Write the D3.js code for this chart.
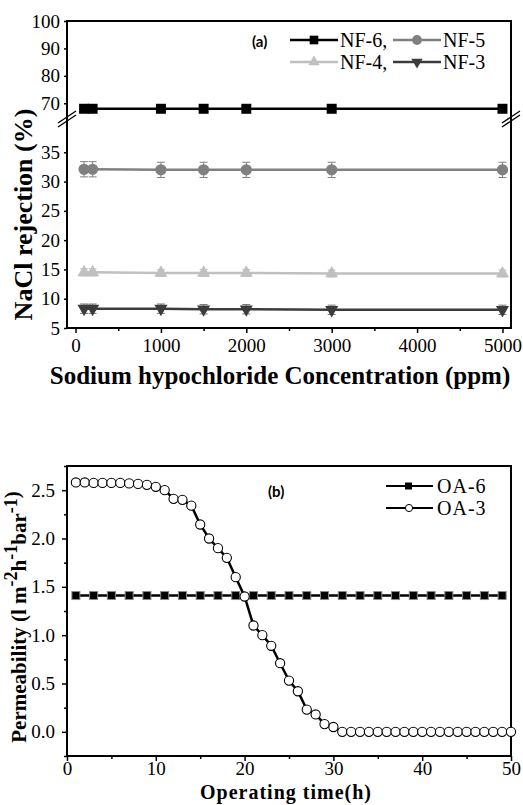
<!DOCTYPE html>
<html>
<head>
<meta charset="utf-8">
<script src="https://cdn.jsdelivr.net/npm/d3@7"></script>
<style>
  body { margin: 0; background: #fff; }
</style>
</head>
<body>
<div id="chart"></div>
<script>
/* (a) NaCl rejection vs hypochlorite, (b) permeability vs operating time */

// ---- panel (a) data
const concentration = [100, 200, 1000, 1500, 2000, 3000, 5000];
const nf6 = [68, 68, 68, 68, 68, 68, 68];
const nf5 = [32.1, 32.1, 32, 32, 32, 32, 32];
const nf4 = [14.5, 14.5, 14.4, 14.4, 14.4, 14.3, 14.3];
const nf3 = [8.3, 8.3, 8.3, 8.2, 8.2, 8.1, 8.1];
const nf6Err = [0.6, 0.6, 0.6, 0.6, 0.6, 0.6, 0.6];
const nf5Err = [1.3, 1.3, 1.3, 1.3, 1.3, 1.3, 1.3];
const nf4Err = [0.6, 0.6, 0.6, 0.6, 0.6, 0.6, 0.6];
const nf3Err = [0.8, 0.8, 0.8, 0.8, 0.8, 0.8, 0.8];
const xTicksA = [0, 1000, 2000, 3000, 4000, 5000];
const xMinorA = [500, 1500, 2500, 3500, 4500];
const yTicksUp = [70, 80, 90, 100];
const yTicksLow = [5, 10, 15, 20, 25, 30, 35];

// ---- panel (b) data
const hoursOA6 = [1, 3, 5, 7, 9, 11, 13, 15, 17, 19, 21, 23, 25, 27, 29, 31, 33, 35, 37, 39, 41, 43, 45, 47, 49];
const oa6 = [1.41, 1.41, 1.41, 1.41, 1.41, 1.41, 1.41, 1.41, 1.41, 1.41, 1.41, 1.41, 1.41,
             1.41, 1.41, 1.41, 1.41, 1.41, 1.41, 1.41, 1.41, 1.41, 1.41, 1.41, 1.41];
const hoursOA3 = [1, 2, 3, 4, 5, 6, 7, 8, 9, 10, 11, 12, 13, 14, 15, 16, 17, 18, 19, 20, 21, 22, 23, 24, 25,
                  26, 27, 28, 29, 30, 31, 32, 33, 34, 35, 36, 37, 38, 39, 40, 41, 42, 43, 44, 45, 46, 47, 48, 49, 50];
const oa3 = [2.58, 2.58, 2.575, 2.575, 2.575, 2.575, 2.57, 2.565, 2.555, 2.535,
             2.50, 2.41, 2.40, 2.34, 2.145, 2.0, 1.90, 1.80, 1.60, 1.40,
             1.10, 1.00, 0.89, 0.71, 0.53, 0.42, 0.23, 0.18, 0.08, 0.05,
             0, 0, 0, 0, 0, 0, 0, 0, 0, 0, 0, 0, 0, 0, 0, 0, 0, 0, 0, 0];
const xTicksB = [0, 10, 20, 30, 40, 50];
const xMinorB = [5, 15, 25, 35, 45];
const yTicksB = [0, 0.5, 1.0, 1.5, 2.0, 2.5];
const yMinorB = [-0.25, 0.25, 0.75, 1.25, 1.75, 2.25, 2.75];

const SERIF = "'Liberation Serif', 'DejaVu Serif', serif";
const SANS = "Lato, 'Open Sans', sans-serif";

const width = 523, height = 805;
const svg = d3.select("#chart").append("svg")
    .attr("width", width)
    .attr("height", height)
    .style("font-family", SERIF);

function styleAxis(g, size) {
    g.attr("font-family", null).attr("font-size", null);
    g.select(".domain").remove();
    g.selectAll(".tick line").attr("stroke", "#000").attr("stroke-width", 1.5);
    g.selectAll(".tick text")
        .style("font-family", SERIF)
        .style("font-size", size + "px")
        .attr("fill", "#000");
}

// ================= panel (a)
const pa = { left: 67, right: 511, top: 21, bottom: 328 };
const xA = d3.scaleLinear().domain([-100, 5100]).range([pa.left, pa.right]);
const yUp = d3.scaleLinear().domain([65, 100]).range([117, pa.top]);
const yLow = d3.scaleLinear().domain([5, 40]).range([pa.bottom, 123]);
const yA = v => v > 50 ? yUp(v) : yLow(v);

svg.append("g")
    .attr("transform", `translate(0,${pa.bottom})`)
    .call(d3.axisBottom(xA).tickValues(xTicksA).tickSize(5).tickPadding(6).tickFormat(d3.format("d")))
    .call(g => styleAxis(g, 19));
svg.append("g")
    .attr("transform", `translate(0,${pa.bottom})`)
    .call(d3.axisBottom(xA).tickValues(xMinorA).tickSize(3).tickFormat(""))
    .call(g => styleAxis(g, 19));
svg.append("g")
    .attr("transform", `translate(${pa.left},0)`)
    .call(d3.axisLeft(yUp).tickValues(yTicksUp).tickSize(3).tickPadding(4))
    .call(g => styleAxis(g, 19));
svg.append("g")
    .attr("transform", `translate(${pa.left},0)`)
    .call(d3.axisLeft(yLow).tickValues(yTicksLow).tickSize(3).tickPadding(4))
    .call(g => styleAxis(g, 19));

svg.append("rect")
    .attr("x", pa.left).attr("y", pa.top)
    .attr("width", pa.right - pa.left).attr("height", pa.bottom - pa.top)
    .attr("fill", "none").attr("stroke", "#000").attr("stroke-width", 2);

// axis break marks
[pa.left, pa.right].forEach(x => {
    [-2, 2].forEach(off => {
        svg.append("line")
            .attr("x1", x - 9).attr("y1", 125 + off)
            .attr("x2", x + 9).attr("y2", 113 + off)
            .attr("stroke", "#000").attr("stroke-width", 1.4);
    });
});

const seriesA = [
    { name: "NF-6,", values: nf6, err: nf6Err, color: "#000000", errColor: "#777", symbol: d3.symbolSquare, size: 100, rot: 0 },
    { name: "NF-5", values: nf5, err: nf5Err, color: "#808080", errColor: "#808080", symbol: d3.symbolCircle, size: 100, rot: 0 },
    { name: "NF-4,", values: nf4, err: nf4Err, color: "#c0c0c0", errColor: "#c0c0c0", symbol: d3.symbolTriangle, size: 75, rot: 0 },
    { name: "NF-3", values: nf3, err: nf3Err, color: "#3c3c3c", errColor: "#777", symbol: d3.symbolTriangle, size: 75, rot: 180 }
];

const lineA = d3.line().x(d => xA(d[0])).y(d => yA(d[1]));

seriesA.forEach(s => {
    const pts = concentration.map((c, i) => [c, s.values[i], s.err[i]]);
    const g = svg.append("g");
    g.selectAll(".err").data(pts).join("g").each(function (d) {
        const e = d3.select(this);
        const x = xA(d[0]);
        e.append("line").attr("x1", x).attr("x2", x)
            .attr("y1", yA(d[1] - d[2])).attr("y2", yA(d[1] + d[2]))
            .attr("stroke", s.errColor).attr("stroke-width", 1);
        [d[1] - d[2], d[1] + d[2]].forEach(v => {
            e.append("line").attr("x1", x - 4).attr("x2", x + 4)
                .attr("y1", yA(v)).attr("y2", yA(v))
                .attr("stroke", s.errColor).attr("stroke-width", 1);
        });
    });
    g.append("path").datum(pts)
        .attr("d", lineA)
        .attr("fill", "none").attr("stroke", s.color).attr("stroke-width", 2.5);
    g.selectAll(".mk").data(pts).join("path")
        .attr("transform", d => `translate(${xA(d[0])},${yA(d[1])}) rotate(${s.rot})`)
        .attr("d", d3.symbol(s.symbol, s.size))
        .attr("fill", s.color);
});

// legend (a)
svg.append("text")
    .attr("x", 252).attr("y", 47)
    .style("font-family", SANS)
    .style("font-weight", "bold").style("font-size", "15px")
    .text("(a)");

const legA = [
    { s: seriesA[0], x: 290, y: 40 },
    { s: seriesA[1], x: 393, y: 40 },
    { s: seriesA[2], x: 290, y: 62 },
    { s: seriesA[3], x: 393, y: 62 }
];
legA.forEach(l => {
    svg.append("line")
        .attr("x1", l.x).attr("x2", l.x + 48)
        .attr("y1", l.y).attr("y2", l.y)
        .attr("stroke", l.s.color).attr("stroke-width", 2.5);
    svg.append("path")
        .attr("transform", `translate(${l.x + 24},${l.y}) rotate(${l.s.rot})`)
        .attr("d", d3.symbol(l.s.symbol, l.s.size * 0.75))
        .attr("fill", l.s.color);
    svg.append("text")
        .attr("x", l.x + 50).attr("y", l.y + 7)
        .style("font-family", SERIF)
        .style("font-size", "20px")
        .text(l.s.name);
});

// titles (a)
svg.append("text")
    .attr("transform", `translate(32,${(pa.top + pa.bottom) / 2 + 40}) rotate(-90)`)
    .attr("text-anchor", "middle")
    .style("font-family", SERIF)
    .style("font-size", "26px").style("font-weight", "bold")
    .text("NaCl rejection (%)");
svg.append("text")
    .attr("x", 280).attr("y", 384)
    .attr("text-anchor", "middle")
    .style("font-family", SERIF)
    .style("font-size", "25px").style("font-weight", "bold")
    .text("Sodium hypochloride Concentration (ppm)");

// ================= panel (b)
const pb = { left: 67, right: 511, top: 466, bottom: 756 };
const xB = d3.scaleLinear().domain([0, 50]).range([pb.left, pb.right]);
const yB = d3.scaleLinear().domain([-0.25, 2.75]).range([pb.bottom, pb.top]);

svg.append("g")
    .attr("transform", `translate(0,${pb.bottom})`)
    .call(d3.axisBottom(xB).tickValues(xTicksB).tickSize(5).tickPadding(1))
    .call(g => styleAxis(g, 19));
svg.append("g")
    .attr("transform", `translate(0,${pb.bottom})`)
    .call(d3.axisBottom(xB).tickValues(xMinorB).tickSize(3).tickFormat(""))
    .call(g => styleAxis(g, 19));
svg.append("g")
    .attr("transform", `translate(${pb.left},0)`)
    .call(d3.axisLeft(yB).tickValues(yTicksB).tickSize(5).tickPadding(7).tickFormat(d3.format(".1f")))
    .call(g => styleAxis(g, 19));
svg.append("g")
    .attr("transform", `translate(${pb.left},0)`)
    .call(d3.axisLeft(yB).tickValues(yMinorB).tickSize(3).tickFormat(""))
    .call(g => styleAxis(g, 19));

svg.append("rect")
    .attr("x", pb.left).attr("y", pb.top)
    .attr("width", pb.right - pb.left).attr("height", pb.bottom - pb.top)
    .attr("fill", "none").attr("stroke", "#000").attr("stroke-width", 2);

const lineB = d3.line().x(d => xB(d[0])).y(d => yB(d[1]));

// OA-6
const ptsOA6 = hoursOA6.map((h, i) => [h, oa6[i]]);
svg.append("path").datum(ptsOA6)
    .attr("d", lineB)
    .attr("fill", "none").attr("stroke", "#000").attr("stroke-width", 2.5);
svg.selectAll(".oa6").data(ptsOA6).join("rect")
    .attr("x", d => xB(d[0]) - 4).attr("y", d => yB(d[1]) - 4)
    .attr("width", 8).attr("height", 8)
    .attr("fill", "#000").attr("stroke", "#888").attr("stroke-width", 1);

// OA-3
const ptsOA3 = hoursOA3.map((h, i) => [h, oa3[i]]);
svg.append("path").datum(ptsOA3)
    .attr("d", lineB)
    .attr("fill", "none").attr("stroke", "#000").attr("stroke-width", 2.5);
svg.selectAll(".oa3").data(ptsOA3).join("circle")
    .attr("cx", d => xB(d[0])).attr("cy", d => yB(d[1]))
    .attr("r", 4.6)
    .attr("fill", "#fff").attr("stroke", "#000").attr("stroke-width", 1.1);

// legend (b)
svg.append("text")
    .attr("x", 268).attr("y", 497)
    .style("font-family", SANS)
    .style("font-weight", "bold").style("font-size", "15px")
    .text("(b)");

[{ name: "OA-6", y: 486, sq: true }, { name: "OA-3", y: 508, sq: false }].forEach(l => {
    svg.append("line")
        .attr("x1", 386).attr("x2", 433)
        .attr("y1", l.y).attr("y2", l.y)
        .attr("stroke", "#000").attr("stroke-width", 2);
    if (l.sq) {
        svg.append("rect").attr("x", 405).attr("y", l.y - 3.5)
            .attr("width", 7).attr("height", 7).attr("fill", "#000");
    } else {
        svg.append("circle").attr("cx", 409).attr("cy", l.y).attr("r", 3.6)
            .attr("fill", "#fff").attr("stroke", "#000").attr("stroke-width", 1);
    }
    svg.append("text")
        .attr("x", 437).attr("y", l.y + 7)
        .style("font-family", SERIF)
        .style("font-size", "20px").style("letter-spacing", "1px")
        .text(l.name);
});

// titles (b)
const yt = svg.append("text")
    .attr("transform", `translate(26,${(pb.top + pb.bottom) / 2 + 6}) rotate(-90)`)
    .attr("text-anchor", "middle")
    .style("font-family", SERIF)
    .style("font-size", "21px").style("font-weight", "bold");
yt.append("tspan").text("Permeability (l m");
yt.append("tspan").attr("dy", -9).style("font-size", "18px").text("-2");
yt.append("tspan").attr("dy", 9).text("h");
yt.append("tspan").attr("dy", -9).style("font-size", "18px").text("-1");
yt.append("tspan").attr("dy", 9).text("bar");
yt.append("tspan").attr("dy", -9).style("font-size", "18px").text("-1");
yt.append("tspan").attr("dy", 2).text(")");

svg.append("text")
    .attr("x", 286).attr("y", 799)
    .attr("text-anchor", "middle")
    .style("font-family", SERIF)
    .style("font-size", "20px").style("font-weight", "bold")
    .style("letter-spacing", "1px")
    .text("Operating time(h)");
</script>
</body>
</html>
